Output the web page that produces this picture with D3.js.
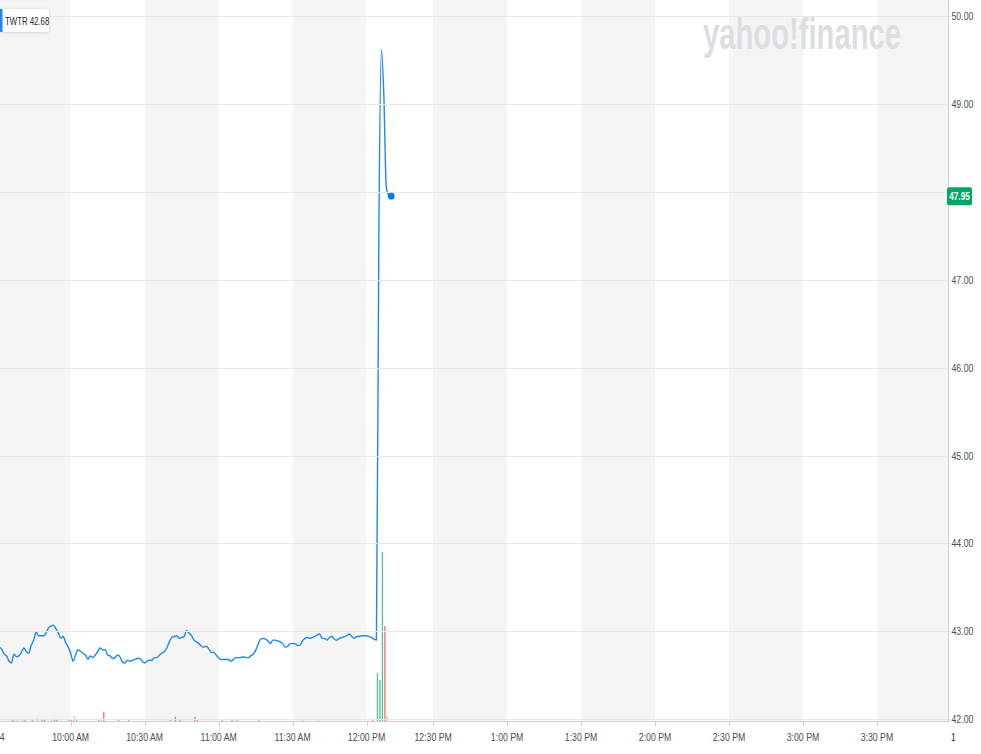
<!DOCTYPE html>
<html><head><meta charset="utf-8">
<script src="https://cdn.jsdelivr.net/npm/d3@7"></script>
<style>html,body{margin:0;padding:0;background:#fff;} svg{display:block;}</style>
</head><body><svg id="c" width="981" height="754"></svg>
<script>
const ticker = "TWTR";
const prevClose = 42.68;
const lastPrice = 47.95;

const priceTimes = [
"9:30","9:31","9:32","9:33","9:34","9:35","9:36","9:37","9:38","9:39",
"9:40","9:41","9:42","9:43","9:44","9:45","9:46","9:47","9:48","9:49",
"9:50","9:51","9:52","9:53","9:54","9:55","9:56","9:57","9:58","9:59",
"10:00","10:01","10:02","10:03","10:04","10:05","10:06","10:07","10:08","10:09",
"10:10","10:11","10:12","10:13","10:14","10:15","10:16","10:17","10:18","10:19",
"10:20","10:21","10:22","10:23","10:24","10:25","10:26","10:27","10:28","10:29",
"10:30","10:31","10:32","10:33","10:34","10:35","10:36","10:37","10:38","10:39",
"10:40","10:41","10:42","10:43","10:44","10:45","10:46","10:47","10:48","10:49",
"10:50","10:51","10:52","10:53","10:54","10:55","10:56","10:57","10:58","10:59",
"11:00","11:01","11:02","11:03","11:04","11:05","11:06","11:07","11:08","11:09",
"11:10","11:11","11:12","11:13","11:14","11:15","11:16","11:17","11:18","11:19",
"11:20","11:21","11:22","11:23","11:24","11:25","11:26","11:27","11:28","11:29",
"11:30","11:31","11:32","11:33","11:34","11:35","11:36","11:37","11:38","11:39",
"11:40","11:41","11:42","11:43","11:44","11:45","11:46","11:47","11:48","11:49",
"11:50","11:51","11:52","11:53","11:54","11:55","11:56","11:57","11:58","11:59",
"12:00","12:01","12:02","12:03","12:04",
"12:08","12:09","12:10","12:11","12:12","12:13"
];
const prices = [
42.84,42.82,42.80,42.74,42.72,42.66,42.64,42.74,42.71,42.72,
42.76,42.81,42.77,42.75,42.84,42.90,42.99,42.95,42.95,42.95,
42.98,43.04,43.06,43.07,43.03,42.98,42.92,42.94,42.87,42.82,
42.75,42.66,42.73,42.79,42.77,42.75,42.73,42.68,42.72,42.70,
42.73,42.77,42.81,42.79,42.79,42.73,42.72,42.69,42.70,42.73,
42.71,42.65,42.64,42.67,42.66,42.67,42.68,42.69,42.69,42.66,
42.64,42.66,42.67,42.67,42.70,42.70,42.73,42.75,42.77,42.81,
42.88,42.93,42.94,42.95,42.92,42.93,42.94,43.01,42.98,42.95,
42.90,42.88,42.86,42.83,42.82,42.83,42.80,42.76,42.76,42.73,
42.70,42.68,42.68,42.68,42.68,42.66,42.68,42.70,42.70,42.70,
42.71,42.70,42.70,42.72,42.74,42.78,42.85,42.91,42.92,42.91,
42.89,42.86,42.90,42.90,42.89,42.88,42.86,42.82,42.83,42.86,
42.86,42.86,42.84,42.84,42.89,42.92,42.93,42.92,42.93,42.94,
42.96,42.97,42.92,42.92,42.90,42.93,42.94,42.91,42.90,42.92,
42.93,42.94,42.95,42.97,42.94,42.92,42.94,42.94,42.95,42.95,
42.95,42.94,42.93,42.91,42.90,
47.60,49.62,49.10,48.05,47.96,47.95
];

const volTimes = ["9:36","9:38","9:40","9:41","9:44","9:46","9:48","9:49","9:52","9:53","9:54","9:59",
"10:00","10:01","10:02","10:11","10:12","10:13","10:19","10:23","10:40","10:42","10:44","10:50","10:51",
"11:01","11:05","11:07","11:16","11:34","11:40","12:02","12:04","12:08","12:09","12:10","12:11"];
const volumes = [50,50,50,100,50,150,50,50,50,115,50,50,
50,265,115,85,65,465,65,50,50,215,65,215,65,
65,50,50,115,65,100,65,2400,2050,8450,4750,250];
const volKinds = ["down","downL","upL","up","up","upL","up","down","upL","up","down","down",
"down","downL","up","up","upL","down","up","up","up","down","down","down","down",
"up","down","up","up","upL","upL","down","up","up","up","down","downL"];

const priceTicks = [42,43,44,45,46,47,48,49,50];
const timeTicks = ["10:00","10:30","11:00","11:30","12:00","12:30","13:00","13:30","14:00","14:30","15:00","15:30"];
const bandStarts = ["9:30","10:30","11:30","12:30","13:30","14:30","15:30"];
const sessionStart = "9:30", sessionEnd = "16:00";
const haltStart = "12:04", haltEnd = "12:08";
const edgeLabels = ["10/4","10/5"];

const parse = d3.timeParse("%H:%M");
const svg = d3.select("#c");
const plotR = 948, baseY = 721;
const font = "'Liberation Sans',Arial,sans-serif";
const SX = 0.76;

const x = d3.scaleTime()
  .domain([parse(sessionStart), parse(haltStart), parse(haltEnd), parse(sessionEnd)])
  .range([-3.3, 376.4, 378.9, 950.9]);
const y = d3.scaleLinear().domain([42, 50]).range([719.2, 16]);
const yVol = d3.scaleLinear().domain([0, d3.max(volumes)]).range([baseY, baseY - 169]);

function label(sel, px, py, sx) {
  return sel.attr("transform", (d, i) => `translate(${typeof px === "function" ? px(d, i) : px},${typeof py === "function" ? py(d, i) : py}) scale(${sx},1)`);
}

const defs = svg.append("defs");
defs.append("clipPath").attr("id","plot").append("rect").attr("x",0).attr("y",0).attr("width",plotR).attr("height",baseY);
defs.append("clipPath").attr("id","xlab").append("rect").attr("x",0).attr("y",baseY).attr("width",955).attr("height",40);
const f = defs.append("filter").attr("id","sh").attr("x","-20%").attr("y","-30%").attr("width","140%").attr("height","160%");
f.append("feDropShadow").attr("dx",0).attr("dy",0.5).attr("stdDeviation",1.5).attr("flood-color","#000").attr("flood-opacity",0.18);

const gp = svg.append("g").attr("clip-path","url(#plot)");
gp.selectAll("rect.band").data(bandStarts).join("rect")
  .attr("x", d => x(parse(d)))
  .attr("width", d => x(d3.timeMinute.offset(parse(d), 30)) - x(parse(d)))
  .attr("y", 0).attr("height", baseY).attr("fill", "#f5f5f5");

svg.append("g").selectAll("line").data(priceTicks).join("line")
  .attr("x1", 0).attr("x2", plotR + 3)
  .attr("y1", d => Math.round(y(d)) + 0.5).attr("y2", d => Math.round(y(d)) + 0.5)
  .attr("stroke", "#e8e8e8").attr("stroke-width", 1);

svg.append("text").attr("x", 703).attr("y", 49)
  .attr("textLength", 198).attr("lengthAdjust", "spacingAndGlyphs")
  .attr("font-family", "'Liberation Sans',Arial,sans-serif").attr("font-weight", "bold")
  .attr("font-size", 45).attr("fill", "#dcdee2").text("yahoo!finance");

const colors = {up:"#4fc490", down:"#ff6b6b", upL:"#a9e2c8", downL:"#ffb6b6"};
gp.selectAll("rect.vol").data(volumes.map((v,i)=>({t:parse(volTimes[i]), v, k:volKinds[i]}))).join("rect")
  .attr("x", d => x(d.t) + 0.4).attr("width", 1.3)
  .attr("y", d => yVol(d.v)).attr("height", d => baseY - yVol(d.v))
  .attr("fill", d => colors[d.k]);

const pts = prices.map((p,i)=>({t:parse(priceTimes[i]), p}));
gp.append("path").datum(pts)
  .attr("d", d3.line().x(d => x(d.t)).y(d => y(d.p)).curve(d3.curveMonotoneX))
  .attr("fill","none").attr("stroke","#1e88f0").attr("stroke-width",1.4).attr("stroke-linejoin","round");
const last = pts[pts.length-1];
svg.append("circle").attr("cx", x(last.t)).attr("cy", y(last.p)).attr("r", 3.4).attr("fill", "#0a78f0");

svg.append("line").attr("x1", plotR + 0.5).attr("x2", plotR + 0.5).attr("y1", 0).attr("y2", baseY)
  .attr("stroke", "#d3d3d3");
label(svg.append("g").selectAll("text").data(priceTicks.filter(d => Math.abs(y(d) - y(lastPrice)) > 12)).join("text")
  .attr("font-family", font).attr("font-size", 11.5).attr("fill", "#464e56")
  .text(d3.format(".2f")), 951.5, d => y(d) + 4, SX);

svg.append("rect").attr("x", 947).attr("y", y(lastPrice) - 9).attr("width", 25).attr("height", 18)
  .attr("rx", 2).attr("fill", "#00a862");
label(svg.append("text").attr("text-anchor","middle")
  .attr("font-family", font).attr("font-size", 11.5).attr("font-weight","bold").attr("fill","#fff")
  .text(d3.format(".2f")(lastPrice)), 959.5, y(lastPrice) + 4, 0.72);

svg.append("line").attr("x1", 0).attr("x2", plotR + 2).attr("y1", baseY + 0.5).attr("y2", baseY + 0.5).attr("stroke", "#cfcfcf");
const gx = svg.append("g").attr("clip-path","url(#xlab)");
gx.selectAll("line").data(timeTicks).join("line")
  .attr("x1", d => Math.round(x(parse(d))) + 0.5).attr("x2", d => Math.round(x(parse(d))) + 0.5)
  .attr("y1", baseY).attr("y2", baseY + 5).attr("stroke", "#cfcfcf");
const fmt = d3.timeFormat("%-I:%M %p");
label(gx.selectAll("text.t").data(timeTicks).join("text").attr("text-anchor","middle")
  .attr("font-family", font).attr("font-size", 11.5).attr("fill", "#464e56")
  .text(d => fmt(parse(d))), d => x(parse(d)), 741, SX);
label(gx.append("text").attr("text-anchor","end")
  .attr("font-family", font).attr("font-size", 11.5).attr("fill", "#464e56").text(edgeLabels[0]), 4.5, 741, SX);
label(gx.append("text").attr("text-anchor","start")
  .attr("font-family", font).attr("font-size", 11.5).attr("fill", "#232a31").text(edgeLabels[1]), 951, 741, SX);

const lg = svg.append("g");
lg.append("rect").attr("x", 0).attr("y", 9).attr("width", 49).attr("height", 23).attr("rx", 2)
  .attr("fill", "#fff").attr("filter", "url(#sh)");
lg.append("rect").attr("x", 0).attr("y", 9).attr("width", 2.5).attr("height", 23).attr("fill", "#1e88f0");
label(lg.append("text").attr("font-family", font).attr("font-size", 11.5)
  .attr("fill", "#232a31").text(ticker + " " + d3.format(".2f")(prevClose)), 5, 24.5, 0.68);
</script></body></html>
